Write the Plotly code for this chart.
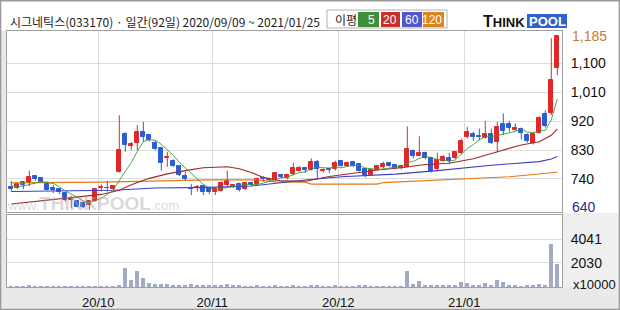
import plotly.graph_objects as go

# ---------------- data ----------------
n_days = 92
day_idx = list(range(n_days))

opens = [716, 711, 730, 726, 749, 742, 726, 711, 708, 696,
         675, 672, 664, 659, 672, 712, 713, 708, 763, 879,
         843, 851, 887, 877, 853, 835, 804, 797, 780, 749,
         713, 711, 718, 713, 698, 704, 722, 717, 724, 708,
         727, 724, 744, 741, 737, 752, 742, 756, 765, 773,
         768, 792, 766, 771, 770, 796, 781, 792, 786, 771,
         752, 768, 778, 789, 783, 773, 778, 828, 813, 822,
         804, 770, 797, 806, 804, 820, 871, 879, 874, 868,
         879, 856, 910, 910, 892, 896, 877, 853, 884, 941,
         944, 1086]
highs = [734, 726, 734, 766, 752, 745, 732, 721, 711, 698,
         688, 675, 670, 675, 711, 723, 734, 721, 938, 885,
         856, 908, 918, 880, 859, 840, 825, 801, 783, 763,
         724, 721, 721, 716, 713, 732, 766, 723, 729, 729,
         732, 745, 749, 744, 760, 756, 756, 791, 780, 778,
         804, 799, 773, 775, 797, 799, 794, 796, 789, 775,
         771, 783, 794, 791, 787, 783, 904, 832, 873, 825,
         809, 822, 814, 820, 826, 866, 902, 887, 897, 921,
         897, 918, 944, 921, 913, 900, 882, 880, 935, 954,
         1178, 1185]
lows = [701, 708, 708, 718, 734, 729, 704, 696, 693, 670,
        649, 652, 649, 644, 670, 701, 701, 706, 760, 825,
        830, 830, 856, 856, 830, 766, 778, 778, 749, 737,
        690, 701, 690, 693, 690, 701, 718, 711, 701, 706,
        718, 721, 732, 734, 732, 742, 739, 752, 763, 760,
        766, 739, 760, 758, 766, 778, 778, 778, 763, 745,
        749, 766, 773, 778, 770, 770, 776, 804, 811, 801,
        760, 766, 794, 786, 801, 818, 866, 858, 861, 866,
        849, 822, 877, 887, 890, 863, 853, 848, 882, 900,
        939, 1062]
closes = [708, 723, 720, 745, 741, 731, 706, 706, 698, 675,
          679, 654, 652, 672, 708, 715, 711, 718, 830, 846,
          848, 887, 871, 861, 832, 789, 809, 780, 752, 739,
          710, 715, 701, 698, 710, 727, 735, 720, 706, 727,
          722, 741, 740, 737, 758, 745, 752, 773, 773, 769,
          794, 771, 769, 768, 789, 780, 791, 782, 766, 752,
          768, 780, 787, 781, 773, 780, 832, 811, 822, 804,
          766, 799, 809, 796, 824, 858, 886, 871, 872, 879,
          851, 902, 890, 899, 899, 884, 858, 880, 931, 904,
          1047, 1185]
# volume in units of 10,000 shares
volumes = [60, 50, 45, 110, 55, 45, 60, 40, 45, 55,
           60, 50, 45, 55, 70, 50, 45, 60, 160, 1630,
           560, 1320, 790, 370, 220, 280, 280, 200, 170, 150,
           280, 170, 190, 140, 110, 170, 220, 120, 90, 80,
           70, 90, 60, 60, 90, 60, 60, 130, 70, 60,
           140, 150, 70, 60, 100, 80, 70, 60, 90, 100,
           70, 60, 80, 60, 60, 70, 1350, 230, 480, 170,
           150, 160, 140, 120, 110, 420, 340, 170, 170, 310,
           200, 560, 420, 140, 100, 80, 130, 100, 230, 170,
           3590, 1970]

ma5 = [718, 716, 718, 722, 727, 732, 729, 726, 716, 703,
       693, 682, 672, 666, 673, 680, 692, 705, 736, 764,
       791, 826, 856, 863, 860, 848, 832, 814, 792, 774,
       758, 739, 723, 713, 707, 710, 714, 718, 720, 723,
       722, 723, 727, 733, 740, 744, 746, 753, 760, 762,
       772, 776, 775, 774, 778, 775, 779, 782, 782, 774,
       772, 770, 771, 774, 778, 780, 791, 795, 804, 810,
       807, 800, 800, 795, 799, 817, 835, 847, 862, 873,
       872, 875, 879, 884, 888, 895, 886, 884, 890, 891,
       924, 989]
ma20_x = [0, 6, 11, 15, 18, 20, 23, 26, 29, 32, 36, 38, 40, 42, 45, 49,
          53, 57, 61, 65, 69, 73, 77, 81, 85, 88, 90, 91]
ma20_y = [662, 674, 684, 692, 705, 722, 742, 756, 766, 775, 778, 772, 760, 745, 734, 733,
          748, 759, 768, 775, 785, 789, 803, 825, 846, 856, 876, 896]
ma60_x = [0, 10, 17, 24, 33, 40, 44, 49, 55, 64, 71, 80, 88, 89, 90, 91]
ma60_y = [701, 703, 705, 712, 714, 718, 727, 737, 747, 755, 766, 783, 794, 797, 802, 810]
ma120_x = [0, 15, 33, 41, 44, 49, 50, 61, 62, 72, 83, 91]
ma120_y = [728, 730, 737, 737, 731, 730, 724, 724, 729, 737, 747, 761]

month_pos = [14.5, 33.5, 54.5, 75.5]
month_labels = ["20/10", "20/11", "20/12", "21/01"]
price_ticks = [740, 830, 920, 1010, 1100]
vol_ticks = [2030, 4041]
vol_tick_labels = ["2030", "4041"]

title_text = "시그네틱스(033170) · 일간(92일) 2020/09/09 ~ 2021/01/25"

# ---------------- layout geometry ----------------
W, H = 620, 310
ML, MR, MT, MB = 7, 58, 31, 23
PW = W - ML - MR
PH = H - MT - MB


def PX(x):
    return (x - ML) / PW


def PY(y):
    return (H - MB - y) / PH


RED = "#e12828"
BLUE = "#2b5dd6"
GRID = "#dcdcdc"
FRAME = "#a0a0a0"
NUMFONT = "Liberation Sans Narrow, Liberation Sans, Arial"

fig = go.Figure()

# moving averages
fig.add_trace(go.Scatter(x=ma120_x, y=ma120_y, mode="lines",
                         line=dict(color="#e27a16", width=1.2), hoverinfo="skip"))
fig.add_trace(go.Scatter(x=ma60_x, y=ma60_y, mode="lines",
                         line=dict(color="#3c3cc8", width=1.1), hoverinfo="skip"))
fig.add_trace(go.Scatter(x=ma20_x, y=ma20_y, mode="lines",
                         line=dict(color="#a02828", width=1.1), hoverinfo="skip"))
fig.add_trace(go.Scatter(x=day_idx, y=ma5, mode="lines",
                         line=dict(color="#3f9a3a", width=0.9), hoverinfo="skip"))

# candles
up = [i for i in day_idx if closes[i] >= opens[i]]
dn = [i for i in day_idx if closes[i] < opens[i]]
for group, col in ((up, RED), (dn, BLUE)):
    wx, wy = [], []
    for i in group:
        wx += [i, i, None]
        wy += [lows[i], highs[i], None]
    fig.add_trace(go.Scatter(x=wx, y=wy, mode="lines", line=dict(color=col, width=1),
                             hoverinfo="skip"))
    fig.add_trace(go.Bar(x=group,
                         y=[abs(closes[i] - opens[i]) for i in group],
                         base=[min(closes[i], opens[i]) for i in group],
                         width=0.62,
                         marker=dict(color=col, line=dict(color=col, width=1))))

# volume
fig.add_trace(go.Bar(x=day_idx, y=volumes, xaxis="x2", yaxis="y2", width=0.7,
                     marker=dict(color="#a2aac4", line=dict(width=0))))

axis_common = dict(showgrid=True, gridcolor=GRID, gridwidth=1, zeroline=False,
                   showline=True, linecolor=FRAME, linewidth=1, mirror=True,
                   automargin=False)

fig.update_layout(
    width=W, height=H, autosize=False,
    margin=dict(l=ML, r=MR, t=MT, b=MB, pad=0, autoexpand=False),
    paper_bgcolor="#ffffff", plot_bgcolor="#ffffff",
    showlegend=False, barmode="overlay", bargap=0,
    xaxis=dict(domain=[0, 1], range=[-0.717, 91.783], anchor="y",
               tickvals=month_pos, showticklabels=False, ticks="", **axis_common),
    xaxis2=dict(domain=[0, 1], range=[-0.717, 91.783], anchor="y2", matches="x",
                tickvals=month_pos, ticktext=month_labels, ticks="outside", ticklen=3,
                tickcolor="rgba(0,0,0,0)",
                tickfont=dict(family=NUMFONT, size=13, color="#111"), **axis_common),
    yaxis=dict(domain=[PY(212), 1], range=[637.3, 1200.5], side="right", anchor="x",
               tickvals=price_ticks, tickformat=",d", ticks="outside", ticklen=5,
               tickcolor="rgba(0,0,0,0)",
               tickfont=dict(family=NUMFONT, size=14, color="#111"), **axis_common),
    yaxis2=dict(domain=[0, PY(215)], range=[0, 6070], side="right", anchor="x2",
                tickvals=vol_ticks, ticktext=vol_tick_labels, ticks="outside", ticklen=5,
                tickcolor="rgba(0,0,0,0)",
                tickfont=dict(family=NUMFONT, size=14, color="#111"), **axis_common),
)

shapes = [
    # bottom label strip, left strip, right volume strip
    dict(type="rect", xref="paper", yref="paper", x0=PX(0), x1=PX(W), y0=PY(H), y1=PY(287),
         fillcolor="#e9e9e9", line=dict(width=0), layer="below"),
    dict(type="rect", xref="paper", yref="paper", x0=PX(0), x1=PX(7), y0=PY(H), y1=PY(31),
         fillcolor="#e9e9e9", line=dict(width=0), layer="below"),
    dict(type="rect", xref="paper", yref="paper", x0=PX(562), x1=PX(W), y0=PY(287), y1=PY(213),
         fillcolor="#efefef", line=dict(width=0), layer="below"),
    # outer frame
    dict(type="rect", xref="paper", yref="paper", x0=PX(0.5), x1=PX(W - 0.5), y0=PY(H - 0.5), y1=PY(0.8),
         line=dict(color="#9a9a9a", width=1.6)),
    # legend box
    dict(type="rect", xref="paper", yref="paper", x0=PX(327), x1=PX(447), y0=PY(28), y1=PY(10),
         fillcolor="#ffffff", line=dict(color="#b0b0b0", width=1)),
    dict(type="rect", xref="paper", yref="paper", x0=PX(358), x1=PX(379), y0=PY(27), y1=PY(12),
         fillcolor="#3f8f3a", line=dict(width=0)),
    dict(type="rect", xref="paper", yref="paper", x0=PX(381), x1=PX(400), y0=PY(27), y1=PY(12),
         fillcolor="#c8302c", line=dict(width=0)),
    dict(type="rect", xref="paper", yref="paper", x0=PX(402), x1=PX(422), y0=PY(27), y1=PY(12),
         fillcolor="#5555cc", line=dict(width=0)),
    dict(type="rect", xref="paper", yref="paper", x0=PX(423), x1=PX(444), y0=PY(27), y1=PY(12),
         fillcolor="#dd8420", line=dict(width=0)),
    # logo blue block
    dict(type="rect", xref="paper", yref="paper", x0=PX(527), x1=PX(567), y0=PY(28), y1=PY(14),
         fillcolor="#2f62cf", line=dict(width=0)),
]
fig.update_layout(shapes=shapes)

ann = []
ann.append(dict(text=title_text, xref="paper", yref="paper", x=PX(8), y=PY(21),
                xanchor="left", yanchor="middle", showarrow=False,
                font=dict(family="Noto Sans CJK KR", size=12, color="#222")))
ann.append(dict(text="이평", xref="paper", yref="paper", x=PX(333), y=PY(19.5),
                xanchor="left", yanchor="middle", showarrow=False,
                font=dict(family="Noto Sans CJK KR", size=12, color="#222")))
for lab, xr in (("5", 377), ("20", 399), ("60", 421), ("120", 443.5)):
    ann.append(dict(text=lab, xref="paper", yref="paper", x=PX(xr), y=PY(19.5),
                    xanchor="right", yanchor="middle", showarrow=False,
                    font=dict(family=NUMFONT, size=12, color="#ffffff")))
ann.append(dict(text="<b><span style='font-size:16px'>T</span>HINK</b>", xref="paper", yref="paper",
                x=PX(481), y=PY(21), xanchor="left", yanchor="middle", showarrow=False,
                font=dict(family="Liberation Sans", size=13, color="#111")))
ann.append(dict(text="<b>POOL</b>", xref="paper", yref="paper", x=PX(547), y=PY(21),
                xanchor="center", yanchor="middle", showarrow=False,
                font=dict(family="Liberation Sans", size=13, color="#ffffff")))
ann.append(dict(text="www.<b><span style='font-size:19px'>THINKPOOL</span></b>.com",
                xref="paper", yref="paper", x=PX(93), y=PY(203),
                xanchor="center", yanchor="middle", showarrow=False,
                font=dict(family="Liberation Sans", size=13, color="rgba(170,170,170,0.45)")))
ann.append(dict(text="1,185", xref="paper", yref="y", x=PX(570), y=max(highs),
                xanchor="left", yanchor="middle", showarrow=False,
                font=dict(family=NUMFONT, size=14, color="#c97a3c")))
ann.append(dict(text="640", xref="paper", yref="paper", x=PX(570), y=PY(207),
                xanchor="left", yanchor="middle", showarrow=False,
                font=dict(family=NUMFONT, size=14, color="#2a2a8c")))
ann.append(dict(text="x10000", xref="paper", yref="paper", x=PX(571), y=PY(284),
                xanchor="left", yanchor="middle", showarrow=False,
                font=dict(family=NUMFONT, size=13, color="#111")))
fig.update_layout(annotations=ann)

fig.write_html("out.html")
